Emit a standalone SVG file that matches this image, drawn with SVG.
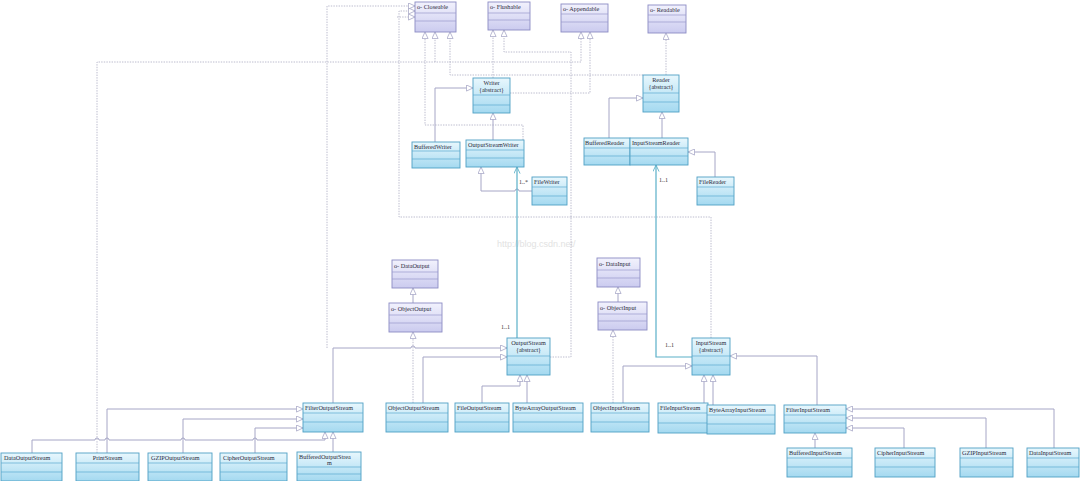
<svg xmlns="http://www.w3.org/2000/svg" width="1080" height="481" viewBox="0 0 1080 481">
<style>
.c{fill:url(#cg);stroke:#4f9fc4;stroke-width:0.9}
.i{fill:url(#ig);stroke:#8c8cc4;stroke-width:0.9}
.cl{stroke:#5aaad0;stroke-width:0.7}
.il{stroke:#9a9acc;stroke-width:0.7}
text{font-family:"Liberation Serif","DejaVu Serif",serif;font-size:6.2px;fill:#2a2a3a}
.m{text-anchor:middle}
.s{fill:none;stroke:#a6a6c6;stroke-width:1}
.d{fill:none;stroke:#b4b4c8;stroke-width:0.9;stroke-dasharray:1.4,1.2}
.t{fill:none;stroke:#5ab0c8;stroke-width:1.2}
.lbl{font-size:6px;fill:#333}
.wm{font-family:"Liberation Sans",sans-serif;font-size:9px;fill:#e2e2e2}
</style>
<defs>
<linearGradient id="cg" x1="0" y1="0" x2="0" y2="1">
<stop offset="0" stop-color="#e8f7fd"/><stop offset="1" stop-color="#a4d9f0"/>
</linearGradient>
<linearGradient id="ig" x1="0" y1="0" x2="0" y2="1">
<stop offset="0" stop-color="#f2f2fd"/><stop offset="1" stop-color="#cbcbef"/>
</linearGradient>
<marker id="tri" viewBox="0 0 8 8" markerWidth="7" markerHeight="7" refX="8" refY="4" orient="auto" markerUnits="userSpaceOnUse">
<path d="M0.5,0.5 L8,4 L0.5,7.5 Z" fill="#fff" stroke="#a6a6c6" stroke-width="0.9"/>
</marker>
<marker id="opn" viewBox="0 0 8 8" markerWidth="7" markerHeight="7" refX="8" refY="4" orient="auto" markerUnits="userSpaceOnUse">
<path d="M0.5,0.5 L8,4 L0.5,7.5" fill="none" stroke="#5ab0c8" stroke-width="1"/>
</marker>
</defs>
<rect width="1080" height="481" fill="#fff"/>
<text class="wm" x="497" y="247">http://blog.csdn.net/</text>

<g id="connectors">
<!-- realization (dotted) -->
<path class="d" d="M97,453 V62 H581 V32" marker-end="url(#tri)"/>
<path class="d" d="M435,62 V32" marker-end="url(#tri)"/>
<path class="d" d="M550,357 H571 V52 H504 V30" marker-end="url(#tri)"/>
<path class="d" d="M571,217 H399 V11 H415" marker-end="url(#tri)"/>
<path class="d" d="M397,17 H415" marker-end="url(#tri)"/>
<path class="d" d="M327,348 V6 H415" marker-end="url(#tri)"/>
<path class="d" d="M711,338 V217 H571"/>
<path class="d" d="M523,140 V125 H425 V32" marker-end="url(#tri)"/>
<path class="d" d="M493,78 V30" marker-end="url(#tri)"/>
<path class="d" d="M510,93 H590 V32" marker-end="url(#tri)"/>
<path class="d" d="M643,75 H450 V32" marker-end="url(#tri)"/>
<path class="d" d="M666,75 V33" marker-end="url(#tri)"/>
<path class="d" d="M413,403 V332" marker-end="url(#tri)"/>
<path class="d" d="M613,403 V330" marker-end="url(#tri)"/>
<!-- generalization (solid) -->
<path class="s" d="M435,142 V88 H473" marker-end="url(#tri)"/>
<path class="s" d="M493,140 V113" marker-end="url(#tri)"/>
<path class="s" d="M532,191 H519 a2,2 0 0 0 -4,0 H481 V167" marker-end="url(#tri)"/>
<path class="s" d="M609,138 V98 H643" marker-end="url(#tri)"/>
<path class="s" d="M662,138 V112" marker-end="url(#tri)"/>
<path class="s" d="M715,177 V152 H688" marker-end="url(#tri)"/>
<path class="s" d="M333,403 V348 H411 a2,2 0 0 1 4,0 H507" marker-end="url(#tri)"/>
<path class="s" d="M423,403 V357 H507" marker-end="url(#tri)"/>
<path class="s" d="M482,403 V386 H520 V375" marker-end="url(#tri)"/>
<path class="s" d="M527,403 V375" marker-end="url(#tri)"/>
<path class="s" d="M413,303 V288" marker-end="url(#tri)"/>
<path class="s" d="M618,302 V287" marker-end="url(#tri)"/>
<path class="s" d="M623,403 V366 H692" marker-end="url(#tri)"/>
<path class="s" d="M704,403 V375" marker-end="url(#tri)"/>
<path class="s" d="M713,405 V375" marker-end="url(#tri)"/>
<path class="s" d="M817,405 V356 H730" marker-end="url(#tri)"/>
<path class="s" d="M815,448 V433" marker-end="url(#tri)"/>
<path class="s" d="M904,448 V428 H846" marker-end="url(#tri)"/>
<path class="s" d="M986,448 V418 H846" marker-end="url(#tri)"/>
<path class="s" d="M1054,448 V409 H846" marker-end="url(#tri)"/>
<path class="s" d="M107,453 V409 H303" marker-end="url(#tri)"/>
<path class="s" d="M183,453 V419 H303" marker-end="url(#tri)"/>
<path class="s" d="M255,453 V428 H303" marker-end="url(#tri)"/>
<path class="s" d="M32,453 V440 H95 a2,2 0 0 1 4,0 H105 a2,2 0 0 1 4,0 H181 a2,2 0 0 1 4,0 H253 a2,2 0 0 1 4,0 H325 V432" marker-end="url(#tri)"/>
<path class="s" d="M333,452 V432" marker-end="url(#tri)"/>
<!-- associations -->
<path class="t" d="M517,338 V167" marker-end="url(#opn)"/>
<path class="t" d="M692,357 H656 V165" marker-end="url(#opn)"/>
<text class="lbl" x="519" y="184">1..*</text>
<text class="lbl" x="501" y="329">1..1</text>
<text class="lbl" x="659" y="182">1..1</text>
<text class="lbl" x="665" y="347">1..1</text>
</g>

<!-- interfaces -->
<g id="closeable"><rect class="i" x="415" y="2" width="41" height="30"/><line class="il" x1="415" y1="13" x2="456" y2="13"/><line class="il" x1="415" y1="21" x2="456" y2="21"/><text x="417" y="9">o- Closeable</text></g>
<g id="flushable"><rect class="i" x="488" y="2" width="42" height="28"/><line class="il" x1="488" y1="13" x2="530" y2="13"/><line class="il" x1="488" y1="20" x2="530" y2="20"/><text x="490" y="9">o- Flushable</text></g>
<g id="appendable"><rect class="i" x="561" y="4" width="47" height="28"/><line class="il" x1="561" y1="14" x2="608" y2="14"/><line class="il" x1="561" y1="22" x2="608" y2="22"/><text x="563" y="11">o- Appendable</text></g>
<g id="readable"><rect class="i" x="648" y="5" width="38" height="28"/><line class="il" x1="648" y1="15" x2="686" y2="15"/><line class="il" x1="648" y1="22" x2="686" y2="22"/><text x="650" y="12">o- Readable</text></g>
<g id="dataoutput"><rect class="i" x="392" y="260" width="46" height="28"/><line class="il" x1="392" y1="272" x2="438" y2="272"/><line class="il" x1="392" y1="279" x2="438" y2="279"/><text x="394" y="268">o- DataOutput</text></g>
<g id="objectoutput"><rect class="i" x="389" y="303" width="53" height="29"/><line class="il" x1="389" y1="315" x2="442" y2="315"/><line class="il" x1="389" y1="323" x2="442" y2="323"/><text x="391" y="311">o- ObjectOutput</text></g>
<g id="datainput"><rect class="i" x="597" y="258" width="43" height="29"/><line class="il" x1="597" y1="270" x2="640" y2="270"/><line class="il" x1="597" y1="278" x2="640" y2="278"/><text x="599" y="266">o- DataInput</text></g>
<g id="objectinput"><rect class="i" x="598" y="302" width="49" height="28"/><line class="il" x1="598" y1="314" x2="647" y2="314"/><line class="il" x1="598" y1="321" x2="647" y2="321"/><text x="600" y="310">o- ObjectInput</text></g>

<!-- abstract classes -->
<g id="writer"><rect class="c" x="473" y="78" width="37" height="35"/><line class="cl" x1="473" y1="95" x2="510" y2="95"/><line class="cl" x1="473" y1="105" x2="510" y2="105"/><text class="m" x="491.5" y="85">Writer</text><text class="m" x="491.5" y="92">{abstract}</text></g>
<g id="reader"><rect class="c" x="643" y="75" width="36" height="37"/><line class="cl" x1="643" y1="93" x2="679" y2="93"/><line class="cl" x1="643" y1="102" x2="679" y2="102"/><text class="m" x="661" y="82">Reader</text><text class="m" x="661" y="89">{abstract}</text></g>
<g id="outputstream"><rect class="c" x="507" y="338" width="43" height="37"/><line class="cl" x1="507" y1="356" x2="550" y2="356"/><line class="cl" x1="507" y1="365" x2="550" y2="365"/><text class="m" x="528.5" y="345">OutputStream</text><text class="m" x="528.5" y="352">{abstract}</text></g>
<g id="inputstream"><rect class="c" x="692" y="338" width="38" height="37"/><line class="cl" x1="692" y1="356" x2="730" y2="356"/><line class="cl" x1="692" y1="365" x2="730" y2="365"/><text class="m" x="711" y="345">InputStream</text><text class="m" x="711" y="352">{abstract}</text></g>

<!-- character stream classes -->
<g id="bufferedwriter"><rect class="c" x="412" y="142" width="48" height="26"/><line class="cl" x1="412" y1="151" x2="460" y2="151"/><line class="cl" x1="412" y1="159" x2="460" y2="159"/><text x="414" y="149">BufferedWriter</text></g>
<g id="outputstreamwriter"><rect class="c" x="466" y="140" width="58" height="27"/><line class="cl" x1="466" y1="150" x2="524" y2="150"/><line class="cl" x1="466" y1="158" x2="524" y2="158"/><text x="468" y="147">OutputStreamWriter</text></g>
<g id="filewriter"><rect class="c" x="532" y="177" width="35" height="28"/><line class="cl" x1="532" y1="187" x2="567" y2="187"/><line class="cl" x1="532" y1="196" x2="567" y2="196"/><text x="534" y="184">FileWriter</text></g>
<g id="bufferedreader"><rect class="c" x="584" y="138" width="46" height="27"/><line class="cl" x1="584" y1="148" x2="630" y2="148"/><line class="cl" x1="584" y1="156" x2="630" y2="156"/><text x="585" y="145">BufferedReader</text></g>
<g id="inputstreamreader"><rect class="c" x="630" y="138" width="58" height="27"/><line class="cl" x1="630" y1="148" x2="688" y2="148"/><line class="cl" x1="630" y1="156" x2="688" y2="156"/><text x="632" y="145">InputStreamReader</text></g>
<g id="filereader"><rect class="c" x="697" y="177" width="37" height="28"/><line class="cl" x1="697" y1="187" x2="734" y2="187"/><line class="cl" x1="697" y1="196" x2="734" y2="196"/><text x="699" y="184">FileReader</text></g>

<!-- byte stream classes -->
<g id="filteroutputstream"><rect class="c" x="303" y="403" width="60" height="29"/><line class="cl" x1="303" y1="413" x2="363" y2="413"/><line class="cl" x1="303" y1="422" x2="363" y2="422"/><text x="305" y="410">FilterOutputStream</text></g>
<g id="objectoutputstream"><rect class="c" x="386" y="403" width="62" height="29"/><line class="cl" x1="386" y1="413" x2="448" y2="413"/><line class="cl" x1="386" y1="422" x2="448" y2="422"/><text x="388" y="410">ObjectOutputStream</text></g>
<g id="fileoutputstream"><rect class="c" x="455" y="403" width="54" height="29"/><line class="cl" x1="455" y1="413" x2="509" y2="413"/><line class="cl" x1="455" y1="422" x2="509" y2="422"/><text x="457" y="410">FileOutputStream</text></g>
<g id="bytearrayoutputstream"><rect class="c" x="513" y="403" width="70" height="29"/><line class="cl" x1="513" y1="413" x2="583" y2="413"/><line class="cl" x1="513" y1="422" x2="583" y2="422"/><text x="515" y="410">ByteArrayOutputStream</text></g>
<g id="objectinputstream"><rect class="c" x="591" y="403" width="58" height="29"/><line class="cl" x1="591" y1="413" x2="649" y2="413"/><line class="cl" x1="591" y1="422" x2="649" y2="422"/><text x="593" y="410">ObjectInputStream</text></g>
<g id="fileinputstream"><rect class="c" x="658" y="403" width="50" height="30"/><line class="cl" x1="658" y1="413" x2="708" y2="413"/><line class="cl" x1="658" y1="423" x2="708" y2="423"/><text x="660" y="410">FileInputStream</text></g>
<g id="bytearrayinputstream"><rect class="c" x="707" y="405" width="68" height="29"/><line class="cl" x1="707" y1="415" x2="775" y2="415"/><line class="cl" x1="707" y1="424" x2="775" y2="424"/><text x="709" y="412">ByteArrayInputStream</text></g>
<g id="filterinputstream"><rect class="c" x="784" y="405" width="62" height="28"/><line class="cl" x1="784" y1="415" x2="846" y2="415"/><line class="cl" x1="784" y1="423" x2="846" y2="423"/><text x="786" y="412">FilterInputStream</text></g>
<g id="dataoutputstream"><rect class="c" x="1" y="453" width="61" height="28"/><line class="cl" x1="1" y1="463" x2="62" y2="463"/><line class="cl" x1="1" y1="472" x2="62" y2="472"/><text x="4" y="460">DataOutputStream</text></g>
<g id="printstream"><rect class="c" x="76" y="453" width="63" height="28"/><line class="cl" x1="76" y1="463" x2="139" y2="463"/><line class="cl" x1="76" y1="472" x2="139" y2="472"/><text class="m" x="107.5" y="460">PrintStream</text></g>
<g id="gzipoutputstream"><rect class="c" x="148" y="453" width="64" height="28"/><line class="cl" x1="148" y1="463" x2="212" y2="463"/><line class="cl" x1="148" y1="472" x2="212" y2="472"/><text x="151" y="460">GZIPOutputStream</text></g>
<g id="cipheroutputstream"><rect class="c" x="220" y="453" width="67" height="28"/><line class="cl" x1="220" y1="463" x2="287" y2="463"/><line class="cl" x1="220" y1="472" x2="287" y2="472"/><text x="223" y="460">CipherOutputStream</text></g>
<g id="bufferedoutputstream"><rect class="c" x="297" y="452" width="64" height="29"/><line class="cl" x1="297" y1="467" x2="361" y2="467"/><line class="cl" x1="297" y1="474" x2="361" y2="474"/><text x="299" y="459">BufferedOutputStrea</text><text x="327" y="465">m</text></g>
<g id="bufferedinputstream"><rect class="c" x="787" y="448" width="65" height="29"/><line class="cl" x1="787" y1="458" x2="852" y2="458"/><line class="cl" x1="787" y1="467" x2="852" y2="467"/><text x="789" y="455">BufferedInputStream</text></g>
<g id="cipherinputstream"><rect class="c" x="875" y="448" width="60" height="29"/><line class="cl" x1="875" y1="458" x2="935" y2="458"/><line class="cl" x1="875" y1="467" x2="935" y2="467"/><text x="877" y="455">CipherInputStream</text></g>
<g id="gzipinputstream"><rect class="c" x="960" y="448" width="53" height="29"/><line class="cl" x1="960" y1="458" x2="1013" y2="458"/><line class="cl" x1="960" y1="467" x2="1013" y2="467"/><text x="962" y="455">GZIPInputStream</text></g>
<g id="datainputstream"><rect class="c" x="1027" y="448" width="52" height="29"/><line class="cl" x1="1027" y1="458" x2="1079" y2="458"/><line class="cl" x1="1027" y1="467" x2="1079" y2="467"/><text x="1029" y="455">DataInputStream</text></g>
</svg>
